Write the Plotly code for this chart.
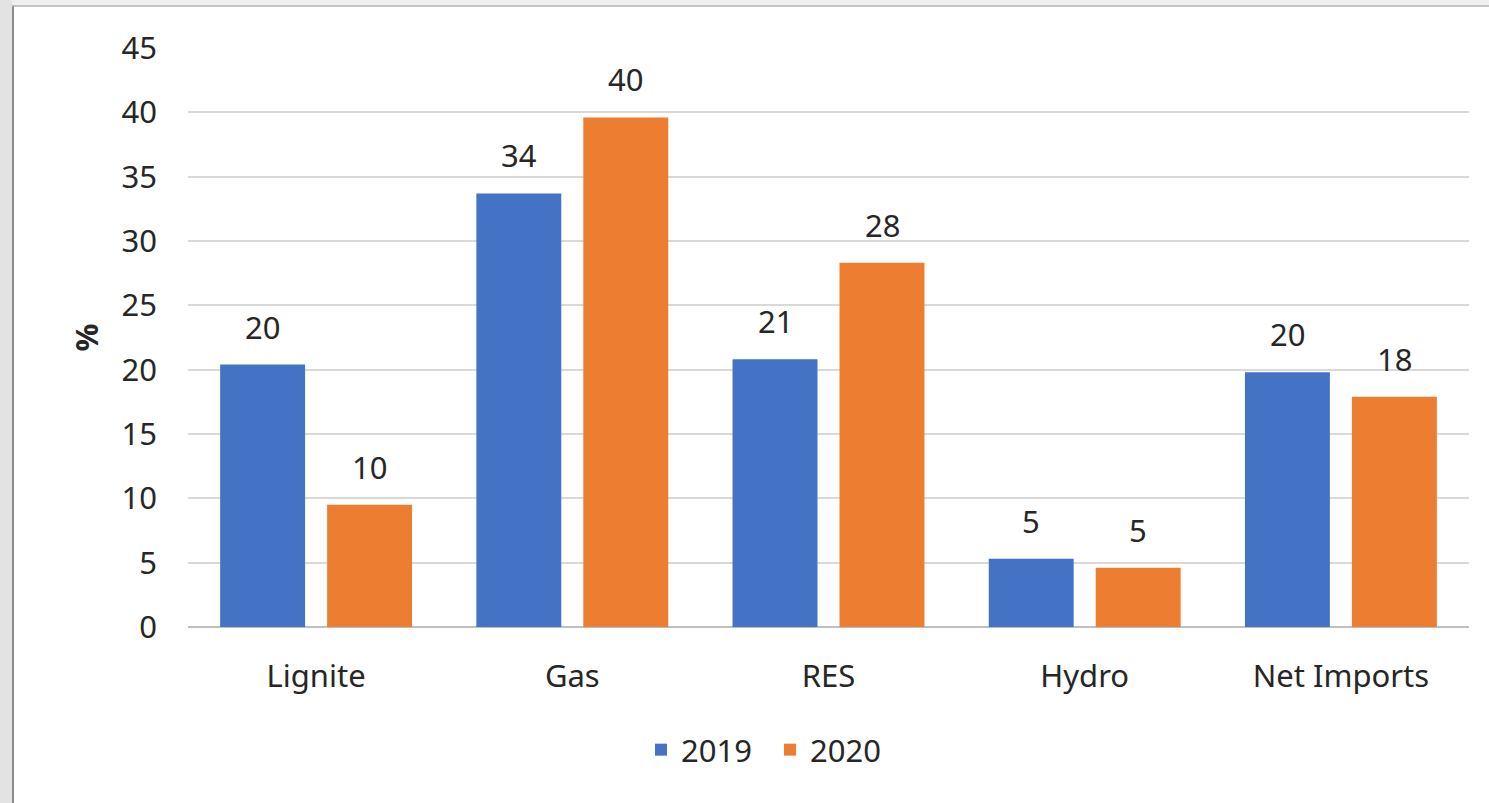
import plotly.graph_objects as go

categories = ["Lignite", "Gas", "RES", "Hydro", "Net Imports"]
values_2019 = [20.4, 33.7, 20.8, 5.3, 19.8]
values_2020 = [9.5, 39.6, 28.3, 4.6, 17.9]
series_names = ["2019", "2020"]
y_ticks = [0, 5, 10, 15, 20, 25, 30, 35, 40, 45]

BLUE = "#4472C4"
ORANGE = "#ED7D31"
FONT = "Noto Sans"
TXT = "#262626"
FS = 31

W, H = 1489, 803
L, R, T, B = 188, 20, 48, 176
PW = W - L - R
PH = H - T - B


def px(x):
    return (x - L) / PW


def py(y):
    return (H - B - y) / PH


fig = go.Figure()
for name, vals, col in [(series_names[0], values_2019, BLUE), (series_names[1], values_2020, ORANGE)]:
    fig.add_trace(go.Bar(x=categories, y=vals, name=name, marker=dict(color=col, line=dict(width=0))))

annotations = []
for vals, shift in [(values_2019, -53.5), (values_2020, 53.5)]:
    for c, v in zip(categories, vals):
        annotations.append(dict(x=c, y=v, xref="x", yref="y", text=f"{v:.0f}", showarrow=False,
                                xshift=shift, yshift=38, yanchor="middle",
                                font=dict(family=FONT, size=FS, color=TXT)))
annotations.append(dict(x=px(85), y=0.5, xref="paper", yref="paper", text="<b>%</b>", textangle=-90,
                        showarrow=False, xanchor="center", yanchor="middle",
                        font=dict(family=FONT, size=FS, color=TXT)))

shapes = [
    dict(type="rect", xref="paper", yref="paper", x0=px(0), x1=px(12), y0=py(803), y1=py(0),
         fillcolor="#e3e3e3", line=dict(width=0), layer="below"),
    dict(type="rect", xref="paper", yref="paper", x0=px(12), x1=px(1489), y0=py(5), y1=py(0),
         fillcolor="#efefef", line=dict(width=0), layer="below"),
    dict(type="line", xref="paper", yref="paper", x0=px(13), x1=px(13), y0=py(803), y1=py(5.5),
         line=dict(color="#8a8a8a", width=2), layer="above"),
    dict(type="line", xref="paper", yref="paper", x0=px(12), x1=px(1489), y0=py(6), y1=py(6),
         line=dict(color="#b0b0b0", width=1.5), layer="above"),
]

fig.update_layout(
    width=W, height=H,
    margin=dict(l=L, r=R, t=T, b=B, pad=0),
    paper_bgcolor="white", plot_bgcolor="white",
    barmode="group", bargap=0.165, bargroupgap=0.206,
    font=dict(family=FONT, size=FS, color=TXT),
    showlegend=True,
    legend=dict(orientation="h", x=px(641), xanchor="left", y=py(750), yanchor="middle",
                entrywidth=84, entrywidthmode="pixels", font=dict(family=FONT, size=FS, color=TXT),
                bgcolor="rgba(0,0,0,0)"),
    annotations=annotations,
    shapes=shapes,
    xaxis=dict(showgrid=False, showline=False, ticks="", ticklabelstandoff=28,
               tickfont=dict(family=FONT, size=FS, color=TXT)),
    yaxis=dict(range=[0, 45], tickvals=y_ticks, showgrid=True, gridcolor="#d9d9d9", gridwidth=1.5,
               zeroline=True, zerolinecolor="#bfbfbf", zerolinewidth=2, showline=False, ticks="",
               ticklabelstandoff=30, tickfont=dict(family=FONT, size=FS, color=TXT)),
)

fig.write_html("out.html")
